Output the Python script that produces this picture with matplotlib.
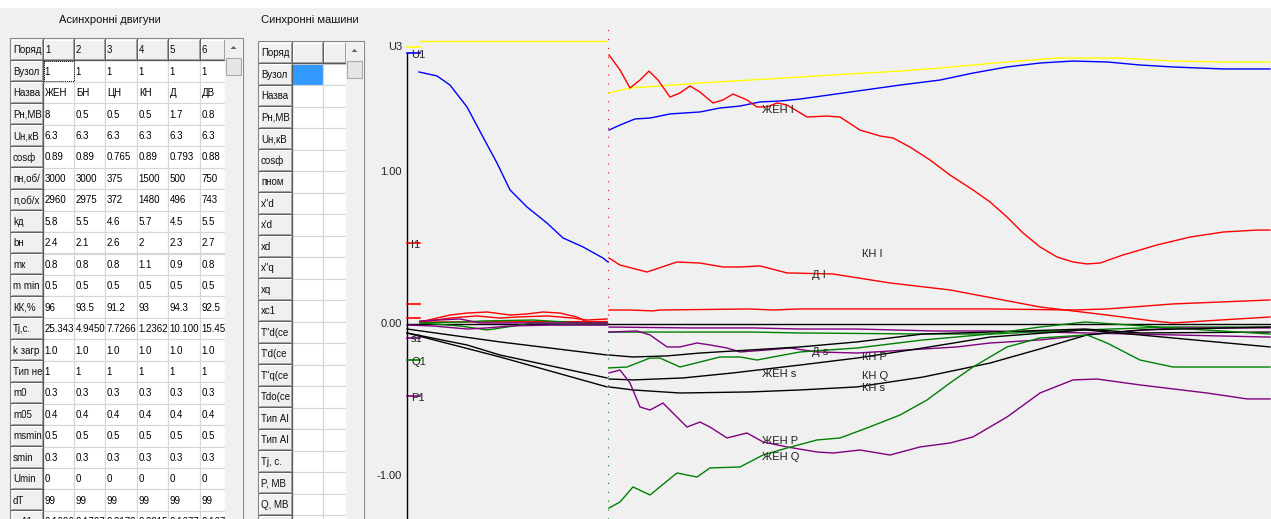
import matplotlib
matplotlib.use("Agg")
import matplotlib.pyplot as plt
from matplotlib.patches import Rectangle, Polygon

plt.rcParams['font.family'] = ['Liberation Sans', 'DejaVu Sans']

# ------------------------------------------------------------------ data: tables
async_title = "Асинхронні двигуни"
async_row_labels = ["Поряд", "Вузол", "Назва", "Рн,МВ", "Uн,кВ", "cosф", "пн,об/", "п,об/х",
                    "kд", "bн", "mк", "m min", "КК,%", "Tj,c.", "k загр", "Тип не", "m0",
                    "m05", "msmin", "smin", "Umin", "dT", "xп11"]
async_col_labels = ["1", "2", "3", "4", "5", "6"]
async_values = [
    ["1", "1", "1", "1", "1", "1"],
    ["ЖЕН", "БН", "ЦН", "КН", "Д", "ДВ"],
    ["8", "0.5", "0.5", "0.5", "1.7", "0.8"],
    ["6.3", "6.3", "6.3", "6.3", "6.3", "6.3"],
    ["0.89", "0.89", "0.765", "0.89", "0.793", "0.88"],
    ["3000", "3000", "375", "1500", "500", "750"],
    ["2960", "2975", "372", "1480", "496", "743"],
    ["5.8", "5.5", "4.6", "5.7", "4.5", "5.5"],
    ["2.4", "2.1", "2.6", "2", "2.3", "2.7"],
    ["0.8", "0.8", "0.8", "1.1", "0.9", "0.8"],
    ["0.5", "0.5", "0.5", "0.5", "0.5", "0.5"],
    ["96", "93.5", "91.2", "93", "94.3", "92.5"],
    ["25.343", "4.9450", "7.7266", "1.2362", "10.100", "15.45"],
    ["1.0", "1.0", "1.0", "1.0", "1.0", "1.0"],
    ["1", "1", "1", "1", "1", "1"],
    ["0.3", "0.3", "0.3", "0.3", "0.3", "0.3"],
    ["0.4", "0.4", "0.4", "0.4", "0.4", "0.4"],
    ["0.5", "0.5", "0.5", "0.5", "0.5", "0.5"],
    ["0.3", "0.3", "0.3", "0.3", "0.3", "0.3"],
    ["0", "0", "0", "0", "0", "0"],
    ["99", "99", "99", "99", "99", "99"],
    ["0.1696", "0.1767", "0.2173", "0.2215", "0.1677", "0.167"],
]

sync_title = "Синхронні машини"
sync_row_labels = ["Поряд", "Вузол", "Назва", "Рн,МВ", "Uн,кВ", "cosф", "пном", "x\"d", "x'd",
                   "xd", "x\"q", "xq", "xc1", "T\"d(ce", "T'd(ce", "T\"q(ce", "Tdo(ce",
                   "Тип АІ", "Тип АІ", "Tj, c.", "P, МВ", "Q, МВ", ""]
sync_col_labels = ["", ""]

# ------------------------------------------------------------------ data: curves
# first (fast) time section
u3_left_t = [0.065, 1.0]
u3_left_v = [1.862, 1.862]
u1_left_t = [0.06, 0.15, 0.215, 0.30, 0.38, 0.45, 0.515, 0.60, 0.70, 0.78, 0.88, 0.98, 1.005]
u1_left_v = [1.658, 1.632, 1.572, 1.428, 1.230, 1.059, 0.882, 0.770, 0.664, 0.566, 0.507, 0.434, 0.408]
ia_left_t = [0.065, 0.215, 0.30, 0.40, 0.515, 0.60, 0.68, 0.765, 0.85, 0.90, 1.0]
ia_left_v = [0.013, 0.059, 0.072, 0.079, 0.059, 0.066, 0.079, 0.072, 0.046, 0.013, 0.013]
ib_left_t = [0.065, 0.215, 0.35, 0.465, 0.55, 0.70, 0.83, 0.90, 1.0]
ib_left_v = [0.013, 0.039, 0.053, 0.039, 0.046, 0.053, 0.039, 0.026, 0.033]
ic_left_t = [0.065, 1.0]
ic_left_v = [0.013, 0.016]
qa_left_t = [0.065, 0.28, 0.38, 0.63, 0.865, 1.0]
qa_left_v = [0.007, 0.013, 0.020, 0.026, 0.007, 0.007]
qb_left_t = [0.065, 0.265, 0.40, 0.50, 0.63, 0.765, 1.0]
qb_left_v = [0.007, -0.013, -0.039, -0.020, 0.007, 0.0, 0.0]
pa_left_t = [0.065, 0.265, 0.365, 1.0]
pa_left_v = [0.020, 0.033, 0.007, 0.007]
pb_left_t = [0.0, 0.13, 0.30, 0.40, 0.515, 0.715, 1.0]
pb_left_v = [-0.007, -0.013, -0.033, -0.026, -0.013, -0.007, -0.007]
sa_left_t = [0.0, 0.465, 1.0]
sa_left_v = [-0.033, -0.118, -0.204]
sb_left_t = [0.0, 0.30, 0.465, 1.0]
sb_left_v = [-0.059, -0.138, -0.204, -0.355]
sc_left_t = [0.0, 0.465, 1.0]
sc_left_v = [-0.059, -0.217, -0.414]
zero_t = [0.0, 4.32]
zero_v = [0.0, 0.0]

# second (slow) time section
u3_right_t = [1.01, 1.115, 1.265, 1.465, 1.715, 1.965, 2.215, 2.465, 2.665, 2.83, 3.0, 3.25,
              3.565, 3.83, 4.08, 4.315]
u3_right_v = [1.520, 1.553, 1.566, 1.586, 1.605, 1.625, 1.645, 1.664, 1.684, 1.704, 1.724, 1.750,
              1.750, 1.730, 1.724, 1.724]
u1_right_t = [1.01, 1.065, 1.14, 1.215, 1.315, 1.465, 1.565, 1.665, 1.765, 1.865, 1.965, 2.215,
              2.465, 2.665, 2.83, 3.0, 3.165, 3.33, 3.50, 3.665, 3.83, 4.08, 4.315]
u1_right_v = [1.276, 1.309, 1.349, 1.355, 1.382, 1.395, 1.421, 1.434, 1.461, 1.467, 1.480, 1.526,
              1.572, 1.605, 1.651, 1.691, 1.717, 1.730, 1.724, 1.704, 1.691, 1.678, 1.678]
zhen_i_t = [1.01, 1.065, 1.115, 1.165, 1.21, 1.255, 1.315, 1.365, 1.415, 1.465, 1.53, 1.58, 1.63,
            1.70, 1.75, 1.80, 1.85, 1.90, 2.0, 2.10, 2.165, 2.265, 2.365, 2.43, 2.515, 2.615,
            2.715, 2.83, 2.915, 3.0, 3.08, 3.165, 3.25, 3.33, 3.40, 3.465, 3.58, 3.75, 3.915,
            4.08, 4.25, 4.315]
zhen_i_v = [1.770, 1.671, 1.553, 1.605, 1.664, 1.605, 1.493, 1.520, 1.566, 1.526, 1.454, 1.474,
            1.513, 1.474, 1.428, 1.428, 1.454, 1.441, 1.362, 1.368, 1.362, 1.276, 1.237, 1.224,
            1.164, 1.079, 0.980, 0.882, 0.803, 0.704, 0.599, 0.507, 0.441, 0.408, 0.395, 0.401,
            0.454, 0.520, 0.572, 0.605, 0.618, 0.618]
d_i_t = [1.01, 1.065, 1.20, 1.35, 1.465, 1.58, 1.665, 1.765, 1.90, 2.13, 2.415, 2.715, 3.165,
         3.50, 3.73, 3.83, 4.065, 4.315]
d_i_v = [0.434, 0.388, 0.342, 0.408, 0.401, 0.375, 0.375, 0.382, 0.336, 0.329, 0.270, 0.224,
         0.112, 0.059, 0.020, 0.007, 0.026, 0.046]
dv_i_t = [1.01, 1.115, 1.23, 1.265, 1.715, 1.83, 1.965, 2.915, 3.33, 3.50, 3.83, 4.315]
dv_i_v = [0.092, 0.092, 0.086, 0.092, 0.099, 0.092, 0.099, 0.099, 0.092, 0.099, 0.132, 0.158]
p_a_t = [1.01, 1.415, 1.73, 1.965, 2.25, 2.63, 2.915, 3.39, 4.315]
p_a_v = [-0.020, -0.026, -0.026, -0.033, -0.033, -0.046, -0.046, -0.059, -0.086]
q_a_t = [1.01, 1.715, 1.965, 2.58, 2.915, 3.39, 3.815, 4.315]
q_a_v = [-0.053, -0.053, -0.059, -0.066, -0.066, -0.039, -0.020, -0.020]
d_s_t = [1.01, 1.15, 1.215, 1.30, 1.365, 1.45, 1.515, 1.60, 1.665, 1.80, 1.915, 2.05, 2.25, 2.50,
         2.75, 2.915, 3.165, 3.50, 3.83, 4.315]
d_s_v = [-0.053, -0.046, -0.072, -0.151, -0.151, -0.125, -0.138, -0.158, -0.184, -0.171, -0.158,
         -0.184, -0.191, -0.171, -0.151, -0.125, -0.105, -0.059, -0.026, -0.026]
s_a_t = [1.01, 1.13, 1.30, 1.465, 1.715, 1.965, 2.25, 2.58, 2.915, 3.39, 3.665, 4.315]
s_a_v = [-0.204, -0.217, -0.210, -0.191, -0.171, -0.151, -0.118, -0.066, -0.053, -0.033, -0.059,
         -0.053]
d_q_t = [1.01, 1.10, 1.215, 1.265, 1.365, 1.465, 1.565, 1.665, 1.75, 1.83, 1.965, 2.25, 2.58,
         2.915, 3.165, 3.39, 3.83, 4.315]
d_q_v = [-0.289, -0.283, -0.224, -0.224, -0.283, -0.250, -0.217, -0.217, -0.237, -0.217, -0.184,
         -0.158, -0.105, -0.066, -0.020, 0.013, -0.026, -0.066]
zhen_s_t = [1.01, 1.13, 1.38, 1.63, 1.965, 2.25, 2.58, 2.915, 3.39, 3.665, 4.315]
zhen_s_v = [-0.362, -0.368, -0.355, -0.322, -0.270, -0.224, -0.158, -0.086, -0.039, -0.072, -0.151]
kn_s_t = [1.01, 1.13, 1.365, 1.715, 1.965, 2.25, 2.58, 2.915, 3.165, 3.40, 3.665, 4.315]
kn_s_v = [-0.414, -0.434, -0.454, -0.447, -0.434, -0.414, -0.349, -0.257, -0.164, -0.072, -0.039,
          -0.020]
zhen_p_t = [1.01, 1.065, 1.115, 1.165, 1.215, 1.28, 1.33, 1.40, 1.465, 1.515, 1.60, 1.70, 1.78,
            1.90, 2.05, 2.13, 2.265, 2.415, 2.565, 2.715, 2.83, 3.0, 3.165, 3.33, 3.45, 3.665,
            4.0, 4.20, 4.315]
zhen_p_v = [-0.322, -0.303, -0.388, -0.546, -0.566, -0.520, -0.586, -0.678, -0.645, -0.678,
            -0.750, -0.717, -0.776, -0.809, -0.842, -0.849, -0.829, -0.862, -0.809, -0.783,
            -0.743, -0.612, -0.454, -0.368, -0.362, -0.401, -0.454, -0.493, -0.493]
zhen_q_t = [1.01, 1.065, 1.13, 1.215, 1.35, 1.45, 1.515, 1.665, 1.78, 1.90, 2.05, 2.165, 2.30,
            2.465, 2.60, 2.715, 2.83, 3.0, 3.165, 3.40, 3.50, 3.665, 3.83, 4.315]
zhen_q_v = [-1.211, -1.171, -1.072, -1.125, -0.980, -1.007, -0.947, -0.941, -0.862, -0.816,
            -0.763, -0.750, -0.684, -0.599, -0.500, -0.388, -0.283, -0.151, -0.092, -0.072,
            -0.125, -0.237, -0.283, -0.283]

# axis marker ticks (value, colour, label)
marker_vals = [1.822, 1.783, 0.533, 0.132, 0.039, -0.092, -0.237, -0.474]
marker_labels = ["U3", "U1", "I1", "", "", "s1", "Q1", "P1"]
marker_colors = ["#ffff00", "#0000ff", "#ff0000", "#ff0000", "#ff0000", "#800080", "#008000", "#800080"]

yticks = [1.0, 0.0, -1.0]
ytick_labels = ["1.00", "0.00", "-1.00"]

curve_labels = ["ЖЕН I", "КН I", "Д I", "Д s", "КН P", "ЖЕН s", "КН Q", "КН s", "ЖЕН P", "ЖЕН Q"]
curve_label_t = [1.775, 2.275, 2.025, 2.025, 2.275, 1.775, 2.275, 2.275, 1.775, 1.775]
curve_label_v = [1.408, 0.461, 0.322, -0.184, -0.217, -0.329, -0.342, -0.421, -0.770, -0.875]

# ------------------------------------------------------------------ figure
W, H = 1271, 519
BG = '#f0f0f0'
fig = plt.figure(figsize=(W / 100, H / 100), dpi=100)
fig.patch.set_facecolor(BG)

ui = fig.add_axes([0, 0, 1, 1])
ui.set_xlim(0, W)
ui.set_ylim(H, 0)
ui.axis('off')
ui.add_patch(Rectangle((0, 0), W, 8, facecolor='white', edgecolor='none'))

FS = 7.0


def header_cell(x0, y0, w, h, text):
    ui.add_patch(Rectangle((x0, y0), w, h, facecolor=BG, edgecolor='none', zorder=2))
    ui.plot([x0 + 0.5, x0 + 0.5, x0 + w - 1], [y0 + h - 1, y0 + 0.5, y0 + 0.5], color='white', lw=0.8, zorder=3)
    ui.plot([x0, x0 + w - 0.5, x0 + w - 0.5], [y0 + h - 0.5, y0 + h - 0.5, y0], color='#5a5a5a', lw=0.9, zorder=3)
    ui.plot([x0 + 1, x0 + w - 1.5, x0 + w - 1.5], [y0 + h - 1.5, y0 + h - 1.5, y0 + 1], color='#a0a0a0', lw=0.7, zorder=3)
    if text:
        ui.text(x0 + 2, y0 + h / 2 + 0.5, text, fontsize=FS, va='center', ha='left', color='#101010', zorder=4)


def data_cell(x0, y0, w, h, text, face='white'):
    ui.add_patch(Rectangle((x0, y0), w, h, facecolor=face, edgecolor='#d6d6d6', lw=0.8, zorder=2))
    if text:
        ui.text(x0 + 1.8, y0 + h / 2 + 0.5, text, fontsize=FS, va='center', ha='left', color='#000000', zorder=4)


def draw_table(x_edges, top, rh, row_labels, col_labels, values, scroll_x, highlight=None, focus=None):
    left = x_edges[0]
    ui.add_patch(Rectangle((left - 1, top - 1), scroll_x[1] - left + 2, H - top + 5,
                           facecolor='white', edgecolor='#828790', lw=0.8, zorder=1))
    for r, lab in enumerate(row_labels):
        y0 = top + r * rh
        header_cell(x_edges[0], y0, x_edges[1] - x_edges[0], rh, lab)
        for c in range(len(x_edges) - 2):
            cx, cw = x_edges[c + 1], x_edges[c + 2] - x_edges[c + 1]
            if r == 0:
                header_cell(cx, y0, cw, rh, col_labels[c] if c < len(col_labels) else "")
            else:
                txt = values[r - 1][c] if values is not None else ""
                face = '#3399ff' if highlight == (r, c) else 'white'
                data_cell(cx, y0, cw, rh, txt, face)
                if focus == (r, c):
                    ui.add_patch(Rectangle((cx + 0.5, y0 + 0.5), cw - 1, rh - 1, facecolor='none',
                                           edgecolor='black', lw=0.7, ls=(0, (1, 1)), zorder=5))
    # scrollbar
    sx0, sx1 = scroll_x
    ui.add_patch(Rectangle((sx0, top), sx1 - sx0, H - top, facecolor=BG, edgecolor='none', zorder=3))
    ui.add_patch(Polygon([((sx0 + sx1) / 2 - 3, top + 10), ((sx0 + sx1) / 2 + 3, top + 10),
                          ((sx0 + sx1) / 2, top + 7)], closed=True, facecolor='#606060',
                         edgecolor='none', zorder=4))
    ui.add_patch(Rectangle((sx0 + 1, top + 19), sx1 - sx0 - 2, 17, facecolor='#e6e6e6',
                           edgecolor='#a9a9a9', lw=0.8, zorder=4))


ui.text(110, 20, async_title, fontsize=8, ha='center', va='center', color='#101010')
ui.text(310, 20, sync_title, fontsize=8, ha='center', va='center', color='#101010')

draw_table([11, 43, 74, 105, 137, 168, 200, 225], 39, 21.45, async_row_labels, async_col_labels,
           async_values, (225, 242), focus=(1, 0))
draw_table([259, 292, 323, 346], 42, 21.5, sync_row_labels, sync_col_labels,
           None, (346, 363), highlight=(1, 0))

# ------------------------------------------------------------------ chart
ax = fig.add_axes([370 / W, 0, (W - 370) / W, (H - 8) / H])
ax.set_facecolor(BG)
ax.set_xlim(-0.185, 4.32)
ax.set_ylim(-1.283, 2.079)
ax.axis('off')

LW = 1.0
YEL, BLU, RED, GRN, PUR, BLK = '#ffff00', '#0000ff', '#ff0000', '#008000', '#800080', '#000000'

# divider between the two time scales
ax.vlines(1.005, 0.0, 1.967, colors=RED, lw=0.8, linestyles=(0, (1, 7)))
ax.vlines(1.005, -1.283, 0.0, colors=GRN, lw=0.8, linestyles=(0, (1, 7)))

series = [
    (zero_t, zero_v, BLK),
    (u3_left_t, u3_left_v, YEL), (u1_left_t, u1_left_v, BLU),
    (ia_left_t, ia_left_v, RED), (ib_left_t, ib_left_v, RED), (ic_left_t, ic_left_v, RED),
    (qa_left_t, qa_left_v, GRN), (qb_left_t, qb_left_v, GRN),
    (pa_left_t, pa_left_v, PUR), (pb_left_t, pb_left_v, PUR),
    (sa_left_t, sa_left_v, BLK), (sb_left_t, sb_left_v, BLK), (sc_left_t, sc_left_v, BLK),
    (u3_right_t, u3_right_v, YEL), (u1_right_t, u1_right_v, BLU),
    (zhen_i_t, zhen_i_v, RED), (d_i_t, d_i_v, RED), (dv_i_t, dv_i_v, RED),
    (p_a_t, p_a_v, PUR), (q_a_t, q_a_v, GRN), (d_s_t, d_s_v, PUR),
    (s_a_t, s_a_v, BLK), (d_q_t, d_q_v, GRN), (zhen_s_t, zhen_s_v, BLK), (kn_s_t, kn_s_v, BLK),
    (zhen_p_t, zhen_p_v, PUR), (zhen_q_t, zhen_q_v, GRN),
]
for t, v, c in series:
    ax.plot(t, v, color=c, lw=LW, solid_joinstyle='round')

# vertical axis
ax.vlines(0.0, -1.283, 1.783, colors=BLK, lw=1.0)
for val, lab in zip(yticks, ytick_labels):
    ax.text(-0.025, val, lab, fontsize=8, ha='right', va='center', color='#222222')

# coloured markers at the axis with their names
for val, lab, col in zip(marker_vals, marker_labels, marker_colors):
    ax.plot([0.0, 0.065], [val, val], color=col, lw=1.2)
    if lab == "U3":
        ax.text(-0.025, val, lab, fontsize=8, ha='right', va='center', color='#222222')
    elif lab:
        ax.text(0.02, val - 0.01, lab, fontsize=8, ha='left', va='center', color='#222222')

for lab, t, v in zip(curve_labels, curve_label_t, curve_label_v):
    ax.text(t, v, lab, fontsize=8, ha='left', va='center', color='#222222')

fig.savefig("out.png", dpi=100, facecolor=BG)
